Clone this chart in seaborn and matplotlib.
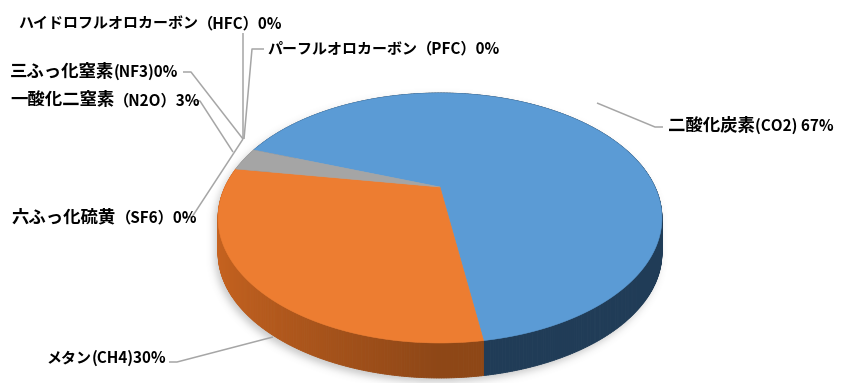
import numpy as np
import matplotlib
matplotlib.use("Agg")
import matplotlib.pyplot as plt
import seaborn as sns
from matplotlib.path import Path
from matplotlib.collections import PolyCollection
from matplotlib.colors import to_rgb

# Greenhouse gas emission shares (%)
gases = ["二酸化炭素(CO2) ", "メタン(CH4)", "一酸化二窒素（N2O）", "ハイドロフルオロカーボン（HFC）",
         "パーフルオロカーボン（PFC）", "六ふっ化硫黄（SF6）", "三ふっ化窒素(NF3)"]
shares = [67, 30, 3, 0, 0, 0, 0]
top_colors = ["#5B9BD5", "#ED7D31", "#A5A5A5", "#FFC000", "#4472C4", "#70AD47", "#255E91"]
side_colors = ["#2D5479", "#C5621F", "#8C8C8C", "#C09000", "#2F5597", "#548235", "#1A4468"]

sns.set_theme(style="white")
plt.rcParams["font.family"] = ["Noto Sans CJK JP", "DejaVu Sans"]

W, H = 841, 383
fig = plt.figure(figsize=(W / 100, H / 100), dpi=100)
ax = fig.add_axes([0, 0, 1, 1])
ax.set_xlim(0, W)
ax.set_ylim(H, 0)
ax.axis("off")

# perspective disc geometry (screen pixels)
CX, CY = 440.0, 187.0
A, B, K = 215.0, 117.3, 0.248
DEPTH = 35.0
START = np.deg2rad(290.0)   # first slice starts here, measured clockwise from the far side


def project(theta):
    x, y = np.sin(theta), np.cos(theta)
    w = 1 + K * y
    return CX + A * x / w, CY - B * y / w


vals = np.array(shares, dtype=float)
bounds = START + np.concatenate([[0], np.cumsum(vals)]) / vals.sum() * 2 * np.pi

# soft drop shadow beneath the disc
tt = np.linspace(0, 2 * np.pi, 400)
ex, ey = project(tt)
yy, xx = np.mgrid[0:H, 0:W]
pts = np.column_stack([xx.ravel() + 0.5, yy.ravel() + 0.5])
mask = np.zeros(H * W, dtype=bool)
for dy in np.linspace(4, DEPTH + 4, 8):
    mask |= Path(np.column_stack([ex - 3, ey + dy])).contains_points(pts)
mask = mask.reshape(H, W).astype(float)
sig = 4.0
kx = np.arange(-12, 13)
kern = np.exp(-kx ** 2 / (2 * sig ** 2))
kern /= kern.sum()
blur = np.apply_along_axis(lambda r: np.convolve(r, kern, mode="same"), 1, mask)
blur = np.apply_along_axis(lambda c: np.convolve(c, kern, mode="same"), 0, blur)
shadow = np.zeros((H, W, 4))
shadow[..., :3] = 0.45
shadow[..., 3] = blur * 0.4
ax.imshow(shadow, extent=(0, W, H, 0), zorder=1, interpolation="bilinear")

# side walls, drawn back to front
quads, qcols, qdepth = [], [], []
for i, v in enumerate(vals):
    if v <= 0:
        continue
    a0, a1 = bounds[i], bounds[i + 1]
    n = max(int((a1 - a0) / (2 * np.pi) * 720), 4)
    th = np.linspace(a0, a1, n + 1)
    px, py = project(th)
    base = np.array(to_rgb(side_colors[i]))
    for j in range(n):
        tm = 0.5 * (th[j] + th[j + 1])
        f = 0.72 + 0.3 * max(0.0, -np.sin(tm))
        quads.append([(px[j], py[j]), (px[j + 1], py[j + 1]),
                      (px[j + 1], py[j + 1] + DEPTH), (px[j], py[j] + DEPTH)])
        qcols.append(np.clip(base * f, 0, 1))
        qdepth.append(0.5 * (py[j] + py[j + 1]))
order = np.argsort(qdepth)
ax.add_collection(PolyCollection([quads[k] for k in order], facecolors=[qcols[k] for k in order],
                                 edgecolors=[qcols[k] for k in order], linewidths=0.6, zorder=2))

# top faces
for i, v in enumerate(vals):
    if v <= 0:
        continue
    a0, a1 = bounds[i], bounds[i + 1]
    th = np.linspace(a0, a1, max(int((a1 - a0) / (2 * np.pi) * 720), 4) + 1)
    px, py = project(th)
    poly = np.column_stack([np.r_[CX, px], np.r_[CY, py]])
    ax.fill(poly[:, 0], poly[:, 1], color=top_colors[i], lw=0.4, ec=top_colors[i], zorder=3)

# label runs: kanji/hiragana, katakana and latin pieces are set in slightly different sizes
CJK = ["Noto Sans CJK JP", "DejaVu Sans"]
run_style = {
    "kanji": dict(fontsize=12.5, family=CJK),
    "kana": dict(fontsize=10.8, family=CJK),
    "latin": dict(fontsize=11.0, family=CJK),
}


def script_of(ch):
    o = ord(ch)
    if 0x30A0 <= o <= 0x30FF:
        return "kana"
    if 0x3040 <= o <= 0x309F or 0x4E00 <= o <= 0x9FFF:
        return "kanji"
    return "latin"


def split_runs(s):
    runs = []
    for ch in s:
        k = script_of(ch)
        if runs and runs[-1][1] == k:
            runs[-1][0] += ch
        else:
            runs.append([ch, k])
    return runs


renderer = fig.canvas.get_renderer()


def draw_label(x, baseline, s):
    for piece, kind in split_runs(s):
        t = ax.text(x, baseline, piece, ha="left", va="baseline", fontweight="bold",
                    color="#000000", zorder=5, **run_style[kind])
        x += t.get_window_extent(renderer).width


# data labels with leader lines
lc = "#A6A6A6"
label_layout = {
    0: dict(xy=(668, 131), line=[(663, 127), (655, 127), (597, 103)]),
    1: dict(xy=(47, 363), line=[(169, 362), (177, 362), (273, 337)]),
    2: dict(xy=(10, 105), line=[(192, 101), (200, 101), (233, 152)]),
    3: dict(xy=(18, 28), line=[(243, 33), (243, 139)]),
    4: dict(xy=(267, 53), line=[(264, 49), (252, 49), (244, 139)]),
    5: dict(xy=(12, 222), line=[(184, 217), (192, 217), (243, 139)]),
    6: dict(xy=(10, 77), line=[(183, 72), (191, 72), (243, 139)]),
}
for i, name in enumerate(gases):
    lay = label_layout[i]
    lx, ly = zip(*lay["line"])
    ax.plot(lx, ly, color=lc, lw=1.1, zorder=4, solid_capstyle="butt")
    draw_label(lay["xy"][0], lay["xy"][1], f"{name}{shares[i]}%")

fig.savefig("out.png", dpi=100)
